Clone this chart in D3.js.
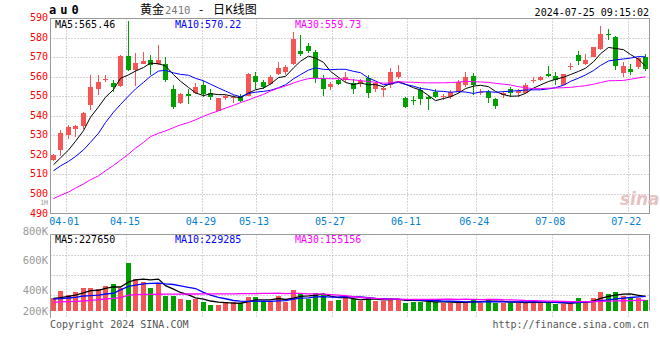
<!DOCTYPE html>
<html><head><meta charset="utf-8">
<script src="https://cdn.jsdelivr.net/npm/d3@7"></script>
<style>body{margin:0;background:#fff}svg{display:block}</style>
</head><body>
<svg id="c" width="660" height="360"></svg>
<script>
// ---------------- DATA ----------------
const dates = ["03-28","03-29",
"04-01","04-02","04-03","04-08","04-09","04-10","04-11","04-12",
"04-15","04-16","04-17","04-18","04-19","04-22","04-23","04-24","04-25","04-26",
"04-29","04-30","05-06","05-07","05-08","05-09","05-10",
"05-13","05-14","05-15","05-16","05-17","05-20","05-21","05-22","05-23","05-24",
"05-27","05-28","05-29","05-30","05-31","06-03","06-04","06-05","06-06","06-07",
"06-11","06-12","06-13","06-14","06-17","06-18","06-19","06-20","06-21",
"06-24","06-25","06-26","06-27","06-28","07-01","07-02","07-03","07-04","07-05",
"07-08","07-09","07-10","07-11","07-12","07-15","07-16","07-17","07-18","07-19",
"07-22","07-23","07-24","07-25"];
const open  = [517.5,522.6,530,533.2,534.9,545.5,553.7,558.2,557,555.2,
570.6,563.4,566.8,568.5,566.5,566.8,554,546.4,551,551.8,
555.8,551.5,542.6,549,549,550.1,550.1,560.4,557.5,556.3,
561.4,562.6,566.5,573.1,575.7,572.8,559.2,554.6,558.3,558.3,
556.7,557.1,559.3,553.8,553.3,555.9,560.1,549,548.2,553.3,
549.9,552.5,549.7,549.9,552.5,555.9,560.5,551.9,552.5,548.6,
550.7,553.8,551.9,551.9,558.2,558.4,561.4,560.4,555.8,565,
571.1,566.4,570.3,574.5,582.1,580.2,562.1,563.8,565.2,570.3];
const close = [520.1,531.1,534.4,534.9,541.7,554.6,557.5,559,554.6,570.6,
563.4,567.2,568.2,566,568.5,558.3,544.7,551.2,550.2,554.6,
551.2,549.5,549,550.1,549.8,547.8,561.7,557.5,554.6,560,
564.3,564.8,579.3,571.6,573.1,559.2,554,556.1,556.3,560,
553.8,558.1,551.6,556.7,554.2,562.7,562.7,544.8,547.7,548.5,
548.5,549.6,550.1,552.5,557.6,560.1,555.9,552.3,549,545.3,
551.9,551.9,552.9,555.8,558.6,560.1,560.6,558.4,561.4,565.4,
568.2,568.6,575.1,581.9,581.5,565.7,565.5,562.6,569.8,563.8];
const high  = [520.5,532.8,535.4,535.4,542.2,560.9,560.9,560.7,558.3,571,
588.5,572.3,572.8,571.1,576.5,570.2,555.8,551.8,554,556.8,
558,554,549.2,550.6,550.6,551,561.8,562.6,558.3,560.9,
567.7,566,583,581.3,577.6,573.6,560.9,557.5,559,562.7,
558.8,558.8,561,557.6,555,564.7,566.1,549.9,550.2,555,
550.8,553.6,551.1,553.3,558.4,562.7,562.2,553.6,553.3,549.2,
552.8,555,553.6,556.7,560.1,560.4,565.5,562.3,561.7,566.9,
573.3,571.5,575.1,586,584.3,581,567.7,566.8,570.3,571.5];
const low   = [516.8,519.5,528.1,529,533.2,543,550.6,557.4,552.3,555,
563,555.2,566.5,560.9,566,557.5,543.5,546,546,551.3,
549.8,548,542.4,548.3,546.7,547.3,550,554,553.6,555.9,
560.9,560.9,566,570.8,572,557,550.1,553.4,555.8,557.6,
551.3,555,549,552.5,549.6,554.2,558.8,544,545.6,545.6,
543,549.3,548.2,548.7,551.6,555,550.8,550.8,546.8,543.6,
549.3,549.7,549.7,551.2,556.7,557.8,560.1,555.8,555.8,563.5,
566.3,566.1,570,573.6,578.8,563.5,559.7,560.8,564,562.9];
const volume = [196000,308000,246000,293000,359000,359000,339000,385000,416000,350000,
744000,497000,447000,359000,411000,236000,236000,185000,169000,180000,
143000,92000,92000,143000,143000,128000,220000,220000,143000,143000,
236000,143000,323000,282000,180000,282000,246000,154000,169000,196000,
185000,154000,220000,154000,154000,205000,185000,128000,143000,143000,
143000,143000,128000,128000,128000,143000,185000,128000,169000,128000,
128000,128000,128000,143000,143000,128000,143000,103000,103000,103000,
205000,154000,205000,297000,262000,297000,236000,220000,196000,169000];
// moving-average values for the days whose window starts before the chart
const ma5Head  = [515,518.5,522.5,527];
const ma10Head = [511.9,514.4,516.7,519.2,522.6,526.5,531.1,536.6,541.9];
const ma30Head = [497.6,499.3,501,503,505.1,507.3,509.3,511.9,514.6,517.3,520.4,523.5,526.4,529.4,531.1,
532.3,534,535.4,536.6,538,539.8,541.2,542.6,544,545.4,546.8,548.2,549.6,551];
const vma5Head  = [195000,205000,226000,246000];
const vma10Head = [185000,190000,200000,211000,231000,236000,246000,262000,273000];
const vma30Head = [134000,139000,144000,149000,154000,164000,175000,185000,195000,205000,246000,252000,255000,257000,258000,
259000,260000,261000,262000,262000,263000,263000,264000,264000,265000,266000,267000,268000,270000];
const dateTicks  = ["04-01","04-15","04-29","05-13","05-27","06-11","06-24","07-08","07-22"];
const priceTicks = [590,580,570,560,550,540,530,520,510,500,490];
const volTicks   = [1000000,800000,600000,400000,200000];
const volTickText = ["1M","800K","600K","400K","200K"];
const priceMaText = ["MA5:565.46","MA10:570.22","MA30:559.73"];
const volMaText   = ["MA5:227650","MA10:229285","MA30:155156"];
const title = ["黄金","2410","-","日K线图"];

// ---------------- DRAW ----------------
const svg = d3.select("#c");
const mono = "'DejaVu Sans Mono','Liberation Mono',monospace";
const RED = "#f65555", GREEN = "#00a000";
const maColors = ["#000000","#0000ff","#ff00ff"];
const GRID = "#a8a8a8", FRAME = "#999999";

const x  = d3.scaleBand().domain(dates).range([50.5, 650.5]).padding(0);
const xg = d3.scalePoint().domain(dates).range([50.5, 650.5]);
const y  = d3.scaleLinear().domain([490, 590]).range([213.5, 18.3]);
const yv = d3.scaleLinear().domain([0, 1181000]).range([311, 234.3]);
const yvLab = d3.scaleLinear().domain([200000,400000,600000,800000,1000000]).range([314.5,294,263.5,234.5,205.4]);

function sma(arr, n, head){
  return arr.map((v,i)=> i < n-1 ? head[i] : d3.mean(arr.slice(i-n+1, i+1)));
}
const cx = d => Math.round(x(d)+0.3) + 2.5;

// price panel grid
const gP = svg.append("g");
priceTicks.filter(p=>p>490 && p<590).forEach(p=>{
  const yy = Math.round(y(p))+0.5;
  gP.append("line").attr("x1",50.5).attr("x2",649.5).attr("y1",yy).attr("y2",yy)
    .attr("stroke",GRID).attr("stroke-dasharray","1,2");
});
dateTicks.forEach(d=>{
  const xx = Math.round(xg(d))+0.5;
  gP.append("line").attr("x1",xx).attr("x2",xx).attr("y1",18.5).attr("y2",213)
    .attr("stroke",GRID).attr("stroke-dasharray","1,2");
  svg.append("line").attr("x1",xx).attr("x2",xx).attr("y1",234.5).attr("y2",318)
    .attr("stroke",GRID).attr("stroke-dasharray","1,2");
});
gP.append("rect").attr("x",50.5).attr("y",18.5).attr("width",599).attr("height",195)
  .attr("fill","none").attr("stroke",FRAME);

// volume grid
[255.5,275.5,295.5].forEach(yy=>{
  svg.append("line").attr("x1",50.5).attr("x2",649.5).attr("y1",yy).attr("y2",yy)
    .attr("stroke",GRID).attr("stroke-dasharray","1,2");
});
svg.append("line").attr("x1",50.5).attr("x2",649.5).attr("y1",234.5).attr("y2",234.5).attr("stroke",FRAME);
svg.append("line").attr("x1",50.5).attr("x2",50.5).attr("y1",234.5).attr("y2",318).attr("stroke",FRAME);
svg.append("line").attr("x1",649.5).attr("x2",649.5).attr("y1",234.5).attr("y2",311).attr("stroke",FRAME);

// watermark
svg.append("text").attr("x",620).attr("y",205).attr("font-family","Verdana,'DejaVu Sans',sans-serif")
  .attr("font-size",17).attr("font-weight","bold").attr("font-style","italic")
  .attr("fill","#e2b4b4").attr("opacity",0.8).text("sina");

// candles
const candles = svg.append("g").attr("shape-rendering","crispEdges");
dates.forEach((d,i)=>{
  const c = close[i] >= open[i] ? RED : GREEN;
  const bx = Math.round(x(d)+0.3);
  candles.append("line").attr("x1",bx+2.5).attr("x2",bx+2.5)
    .attr("y1",y(high[i])).attr("y2",y(low[i])).attr("stroke",c);
  const top = y(Math.max(open[i],close[i])), bot = y(Math.min(open[i],close[i]));
  candles.append("rect").attr("x",bx).attr("width",5)
    .attr("y",top).attr("height",Math.max(1,bot-top)).attr("fill",c);
  candles.append("rect").attr("x",bx).attr("width",5)
    .attr("y",yv(volume[i])).attr("height",311-yv(volume[i])).attr("fill",c);
});

// MA lines
const line = d3.line().x((v,i)=>cx(dates[i])).y(v=>y(v));
const lineV = d3.line().x((v,i)=>cx(dates[i])).y(v=>yv(v));
[sma(close,5,ma5Head), sma(close,10,ma10Head), sma(close,30,ma30Head)].forEach((s,k)=>{
  svg.append("path").attr("d",line(s)).attr("fill","none").attr("stroke",maColors[k]).attr("stroke-width",1);
});
[sma(volume,5,vma5Head), sma(volume,10,vma10Head), sma(volume,30,vma30Head)].forEach((s,k)=>{
  svg.append("path").attr("d",lineV(s)).attr("fill","none").attr("stroke",maColors[k]).attr("stroke-width",1.3);
});

// texts
const T = (xx,yy,txt,fill,size,anchor)=>svg.append("text").attr("x",xx).attr("y",yy)
  .attr("font-family",mono).attr("font-size",size||10).attr("fill",fill||"#000")
  .attr("text-anchor",anchor||"start").text(txt);

priceTicks.forEach(p=> T(48, y(p)+3, p, "#ff0000", 10, "end"));
volTicks.forEach((v,i)=> T(48, yvLab(v), volTickText[i], "#999999", v===1000000?6.5:10.5, "end"));
dateTicks.forEach((d,i)=> {
  const xx = Math.max(64, xg(d)-1.5);
  T(xx, 225, d, "#0080d0", 10, "middle");
});
[55,175,295].forEach((xx,k)=>{ T(xx, 28, priceMaText[k], maColors[k], 10); T(xx, 243, volMaText[k], maColors[k], 10); });

T(49, 14, "au0", "#000", 12).attr("font-weight","bold").attr("letter-spacing","4px");
const cjk = "'Noto Sans CJK SC','Noto Sans',sans-serif";
svg.append("text").attr("x",140).attr("y",14).attr("font-size",12).attr("font-family",cjk).attr("fill","#000").text(title[0]);
svg.append("text").attr("x",165).attr("y",14).attr("font-size",10.5).attr("font-family",mono).attr("fill","#777").text(title[1]);
svg.append("text").attr("x",201).attr("y",14).attr("font-size",12).attr("font-family",cjk).attr("fill","#000").attr("text-anchor","middle").text(title[2]);
svg.append("text").attr("x",213).attr("y",14).attr("font-size",12).attr("font-family",cjk).attr("fill","#000").text(title[3]);
T(649, 16, "2024-07-25 09:15:02", "#000", 10, "end");
T(50, 328, "Copyright 2024 SINA.COM", "#555", 10);
T(649, 328, "http://finance.sina.com.cn", "#555", 10, "end");
</script>
</body></html>
